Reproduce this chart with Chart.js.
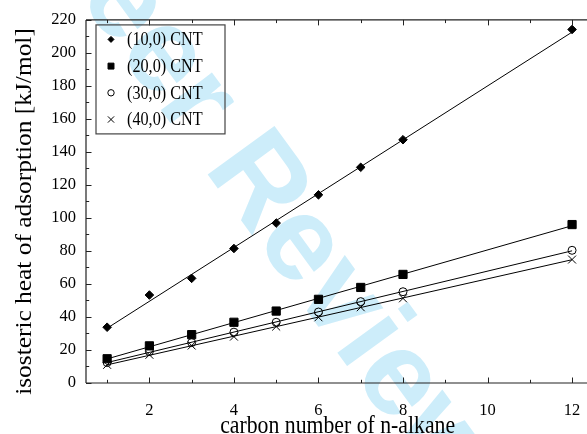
<!DOCTYPE html>
<html>
<head>
<meta charset="utf-8">
<script src="https://cdn.jsdelivr.net/npm/chart.js@4/dist/chart.umd.min.js"></script>
<style>
  html, body { margin: 0; padding: 0; background: #fff; overflow: hidden; }
  #wrap { width: 600px; height: 434px; }
</style>
</head>
<body>
<div id="wrap"><canvas id="c" width="600" height="434"></canvas></div>
<script>
// Isosteric heat of adsorption of n-alkanes in zigzag carbon nanotubes
const carbonNumbers = [1, 2, 3, 4, 5, 6, 7, 8, 12];
const heatCnt10 = [33.8, 53.3, 63.4, 81.5, 96.9, 114.0, 130.7, 147.4, 214.2];
const heatCnt20 = [14.7, 22.5, 29.3, 36.8, 43.6, 50.7, 57.9, 65.8, 96.0];
const heatCnt30 = [12.4, 19.1, 24.5, 30.8, 36.8, 43.0, 49.3, 55.3, 80.4];
const heatCnt40 = [11.0, 17.1, 22.7, 28.1, 34.2, 39.8, 45.9, 51.3, 74.8];

// straight-line fits, end points at n = 1 and n = 12
const fitRange = [1, 12];
const fitCnt10 = [33.2, 212.6];
const fitCnt20 = [14.6, 95.3];
const fitCnt30 = [12.4, 80.1];
const fitCnt40 = [11.0, 74.7];

const seriesNames = ['(10,0) CNT', '(20,0) CNT', '(30,0) CNT', '(40,0) CNT'];

const xTickValues = [2, 4, 6, 8, 10, 12];
const xMinorTickValues = [1, 3, 5, 7, 9, 11];
const yTickValues = [0, 20, 40, 60, 80, 100, 120, 140, 160, 180, 200, 220];
const yMinorTickValues = [10, 30, 50, 70, 90, 110, 130, 150, 170, 190, 210];

const xTitle = 'carbon number of n-alkane';
const yTitle = 'isosteric heat of adsorption [kJ/mol]';
const watermarkText = 'For Peer Review';

// marker look for each series
const markers = [
  { pointStyle: 'rectRot',  radius: 4.3, fill: '#000',          legendRadius: 3.0 },
  { pointStyle: 'rect',     radius: 5.8, fill: '#000',          legendRadius: 4.2 },
  { pointStyle: 'circle',   radius: 4.0, fill: 'rgba(0,0,0,0)', legendRadius: 3.2 },
  { pointStyle: 'crossRot', radius: 5.6, fill: '#000',          legendRadius: 4.4 }
];

const pointSeries = [heatCnt10, heatCnt20, heatCnt30, heatCnt40];
const fitSeries = [fitCnt10, fitCnt20, fitCnt30, fitCnt40];

const datasets = [];
fitSeries.forEach((fit) => {
  datasets.push({
    data: fitRange.map((x, j) => ({ x: x, y: fit[j] })),
    showLine: true,
    borderColor: '#000',
    borderWidth: 1,
    pointRadius: 0,
    fill: false
  });
});
pointSeries.forEach((vals, i) => {
  const m = markers[i];
  datasets.push({
    label: seriesNames[i],
    data: carbonNumbers.map((x, j) => ({ x: x, y: vals[j] })),
    showLine: false,
    pointStyle: m.pointStyle,
    pointRadius: m.radius,
    pointBackgroundColor: m.fill,
    pointBorderColor: '#000',
    pointBorderWidth: 1
  });
});

const AXIS_COLOR = '#222';
const serif = '"Liberation Serif", "Times New Roman", serif';
const TEXT_SQUEEZE = 0.87;   // the figure's lettering is set slightly condensed

const watermark = {
  id: 'watermark',
  beforeDraw(chart) {
    const ctx = chart.ctx;
    ctx.save();
    ctx.fillStyle = '#cdedfa';
    ctx.font = 'bold 120px "Liberation Sans", Arial, sans-serif';
    ctx.textBaseline = 'alphabetic';
    ctx.textAlign = 'left';
    const lead = ctx.measureText('For Peer ').width;
    ctx.translate(203, 168);
    ctx.rotate(54 * Math.PI / 180);
    ctx.fillText(watermarkText, -lead, 0);
    ctx.restore();
  }
};

const frame = {
  id: 'frame',
  afterDraw(chart) {
    const ctx = chart.ctx;
    const a = chart.chartArea;
    const xs = chart.scales.x, ys = chart.scales.y;
    ctx.save();
    ctx.strokeStyle = AXIS_COLOR;
    ctx.lineWidth = 1.2;
    ctx.beginPath();
    ctx.moveTo(a.left, a.top); ctx.lineTo(a.right, a.top);
    ctx.moveTo(a.left, a.bottom); ctx.lineTo(a.right, a.bottom);
    ctx.moveTo(a.left, a.top); ctx.lineTo(a.left, a.bottom);
    ctx.moveTo(a.right, a.top); ctx.lineTo(a.right, a.bottom);
    ctx.stroke();

    ctx.lineWidth = 1;
    ctx.beginPath();
    const xTick = (v, len) => {
      const px = Math.round(xs.getPixelForValue(v)) + 0.5;
      ctx.moveTo(px, a.bottom); ctx.lineTo(px, a.bottom - len);
      ctx.moveTo(px, a.top); ctx.lineTo(px, a.top + len);
    };
    const yTick = (v, len) => {
      const py = Math.round(ys.getPixelForValue(v)) + 0.5;
      ctx.moveTo(a.left, py); ctx.lineTo(a.left + len, py);
      ctx.moveTo(a.right, py); ctx.lineTo(a.right - len, py);
    };
    xTickValues.forEach(v => xTick(v, 5.5));
    xMinorTickValues.forEach(v => xTick(v, 3.2));
    yTickValues.forEach(v => yTick(v, 5.5));
    yMinorTickValues.forEach(v => yTick(v, 3.2));
    ctx.stroke();

    // axis titles
    ctx.fillStyle = '#000';
    ctx.font = '25px ' + serif;
    ctx.textAlign = 'center';
    ctx.textBaseline = 'alphabetic';
    ctx.save();
    ctx.translate((a.left + a.right) / 2 - 2, 433);
    ctx.scale(TEXT_SQUEEZE, 1);
    ctx.fillText(xTitle, 0, 0);
    ctx.restore();
    ctx.save();
    ctx.font = '25.4px ' + serif;
    ctx.translate(30.5, 211.5);
    ctx.scale(TEXT_SQUEEZE, 1);
    ctx.rotate(-Math.PI / 2);
    ctx.fillText(yTitle, 0, 0);
    ctx.restore();

    // legend box
    const bx = a.left + 10, by = a.top + 5, bw = 129, bh = 109;
    ctx.strokeStyle = '#444';
    ctx.lineWidth = 1.2;
    ctx.strokeRect(bx, by, bw, bh);
    seriesNames.forEach((name, i) => {
      const ry = by + 14.5 + i * 26.7;
      const m = markers[i];
      ctx.fillStyle = m.fill;
      ctx.strokeStyle = '#000';
      ctx.lineWidth = 1;
      Chart.helpers.drawPoint(ctx, {
        pointStyle: m.pointStyle,
        radius: m.legendRadius,
        rotation: 0,
        borderWidth: 1
      }, bx + 15, ry);
      ctx.save();
      ctx.fillStyle = '#000';
      ctx.font = '18px ' + serif;
      ctx.textAlign = 'left';
      ctx.textBaseline = 'middle';
      ctx.translate(bx + 31, ry + 1);
      ctx.scale(0.9, 1);
      ctx.fillText(name, 0, 0);
      ctx.restore();
    });
    ctx.restore();
  }
};

new Chart(document.getElementById('c'), {
  type: 'scatter',
  data: { datasets: datasets },
  options: {
    responsive: false,
    animation: false,
    events: [],
    layout: { padding: { top: 19, right: 6, left: 0, bottom: 0 } },
    plugins: { legend: { display: false }, tooltip: { enabled: false } },
    scales: {
      x: {
        type: 'linear',
        min: 0.5,
        max: 12.5,
        grid: { display: false, drawTicks: false, tickLength: 0 },
        border: { display: false },
        ticks: { color: '#000', font: { family: serif, size: 16.5 }, padding: 18, maxRotation: 0 },
        afterBuildTicks: s => { s.ticks = xTickValues.map(v => ({ value: v })); },
        afterFit: s => { s.height = 51; }
      },
      y: {
        type: 'linear',
        min: 0,
        max: 220,
        grid: { display: false, drawTicks: false, tickLength: 0 },
        border: { display: false },
        ticks: { color: '#000', font: { family: serif, size: 16.5 }, padding: 10 },
        afterBuildTicks: s => { s.ticks = yTickValues.map(v => ({ value: v })); },
        afterFit: s => { s.width = 86; }
      }
    }
  },
  plugins: [watermark, frame]
});
</script>
</body>
</html>
